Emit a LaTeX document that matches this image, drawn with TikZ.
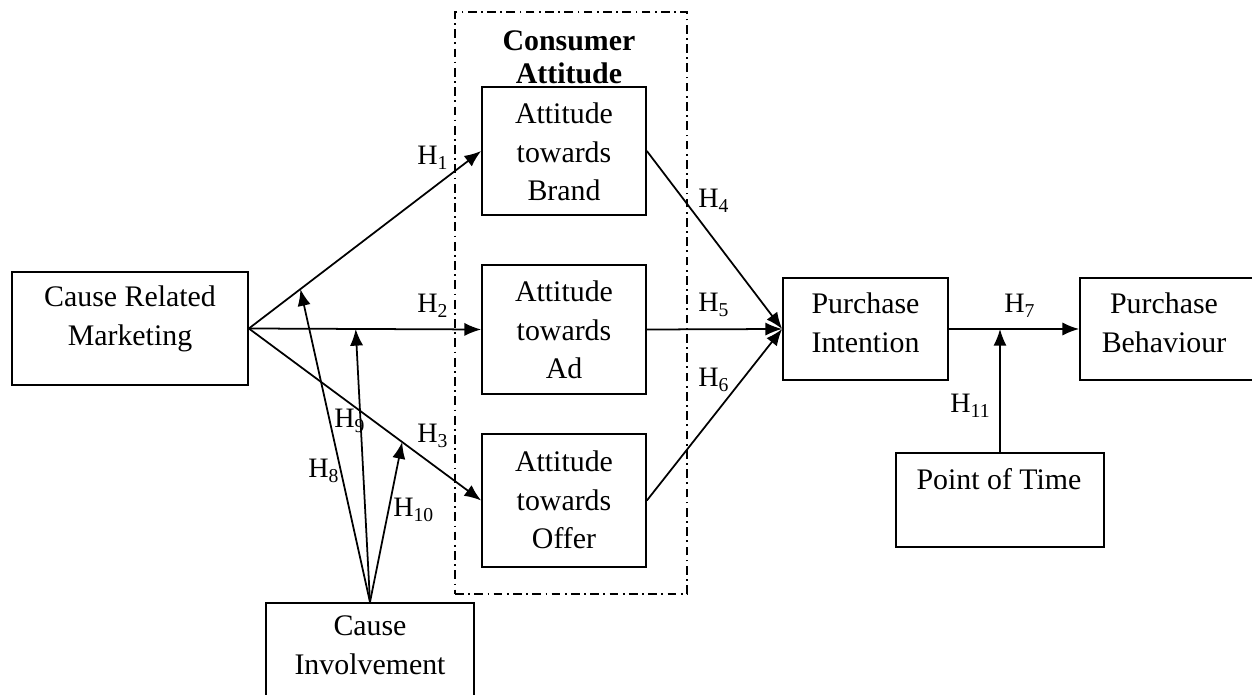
\documentclass[tikz,border=0pt]{standalone}
\usepackage{fontspec}
\setmainfont{Liberation Serif}
\usetikzlibrary{arrows.meta}
\begin{document}
\begin{tikzpicture}[x=0.02cm,y=-0.02cm,
  box/.style={draw, line width=1pt, inner sep=0pt},
  txt/.style={align=center, font=\fontsize{17}{22}\selectfont, inner sep=0pt},
  hlab/.style={font=\fontsize{16}{18}\selectfont, inner sep=0pt, anchor=base west},
  arr/.style={line width=1pt, -{Latex[length=9.5pt,width=7.5pt]}},
  dashbox/.style={draw, line width=1pt, dash pattern=on 5pt off 2.5pt on 1pt off 2.5pt, inner sep=0pt}]
\useasboundingbox (0,0) rectangle (1252,695);
\clip (0,0) rectangle (1252,695);

% dashed group
\node[dashbox, minimum width=4.64cm, minimum height=11.64cm] (grp) at (571,303) {};
\node[txt, font=\fontsize{17}{19}\selectfont\bfseries] (grpt) at (569,57) {Consumer\\Attitude};

% boxes
\node[box, minimum width=4.72cm, minimum height=2.26cm] (crm) at (130,328.5) {};
\node[txt] (crmt) at (130,319) {Cause Related\\Marketing};

\node[box, minimum width=3.28cm, minimum height=2.56cm] (brand) at (564,151) {};
\node[txt] (brandt) at (564,152) {Attitude\\towards\\Brand};

\node[box, minimum width=3.28cm, minimum height=2.58cm] (ad) at (564,329.5) {};
\node[txt] (adt) at (564,330) {Attitude\\towards\\Ad};

\node[box, minimum width=3.28cm, minimum height=2.66cm] (offer) at (564,500.5) {};
\node[txt] (offert) at (564,500) {Attitude\\towards\\Offer};

\node[box, minimum width=3.3cm, minimum height=2.04cm] (pi) at (865.5,329) {};
\node[txt] (pit) at (865.5,323) {Purchase\\Intention};

\node[box, minimum width=3.64cm, minimum height=2.04cm] (pb) at (1171,329) {};
\node[txt] (pbt) at (1164,323) {Purchase\\Behaviour};

\node[box, minimum width=4.16cm, minimum height=1.88cm] (pot) at (1000,500) {};
\node[txt] (pott) at (999,479) {Point of Time};

\node[box, minimum width=4.16cm, minimum height=2.24cm] (ci) at (370,659) {};
\node[txt] (cit) at (370,645) {Cause\\Involvement};

% connectors
\draw[arr] (crm.east) -- (brand.west);
\draw[arr] (crm.east) -- (ad.west);
\draw[arr] (crm.east) -- (offer.west);
\draw[arr] (brand.east) -- (pi.west);
\draw[arr] (ad.east) -- (pi.west);
\draw[arr] (offer.east) -- (pi.west);
\draw[arr] (pi.east) -- (pb.west);

\path (crm.east) -- (brand.west) coordinate[pos=0.222] (m8);
\path (crm.east) -- (ad.west) coordinate[pos=0.46] (m9);
\path (crm.east) -- (offer.west) coordinate[pos=0.66] (m10);
\path (pi.east) -- (pb.west) coordinate[pos=0.38] (m11);

\draw[arr] (ci.north) -- (m8);
\draw[arr] (ci.north) -- (m9);
\draw[arr] (ci.north) -- (m10);
\draw[arr] (pot.north) -- (pot.north |- m11);

% labels
\node[hlab] (h1) at (417,165) {H\textsubscript{1}};
\node[hlab] (h2) at (417,313) {H\textsubscript{2}};
\node[hlab] (h3) at (417,443) {H\textsubscript{3}};
\node[hlab] (h4) at (698,208) {H\textsubscript{4}};
\node[hlab] (h5) at (698,312) {H\textsubscript{5}};
\node[hlab] (h6) at (698,387) {H\textsubscript{6}};
\node[hlab] (h7) at (1004,313) {H\textsubscript{7}};
\node[hlab] (h8) at (308,478) {H\textsubscript{8}};
\node[hlab] (h9) at (334,428) {H\textsubscript{9}};
\node[hlab] (h10) at (393,517) {H\textsubscript{10}};
\node[hlab] (h11) at (950,413) {H\textsubscript{11}};
\end{tikzpicture}
\end{document}
